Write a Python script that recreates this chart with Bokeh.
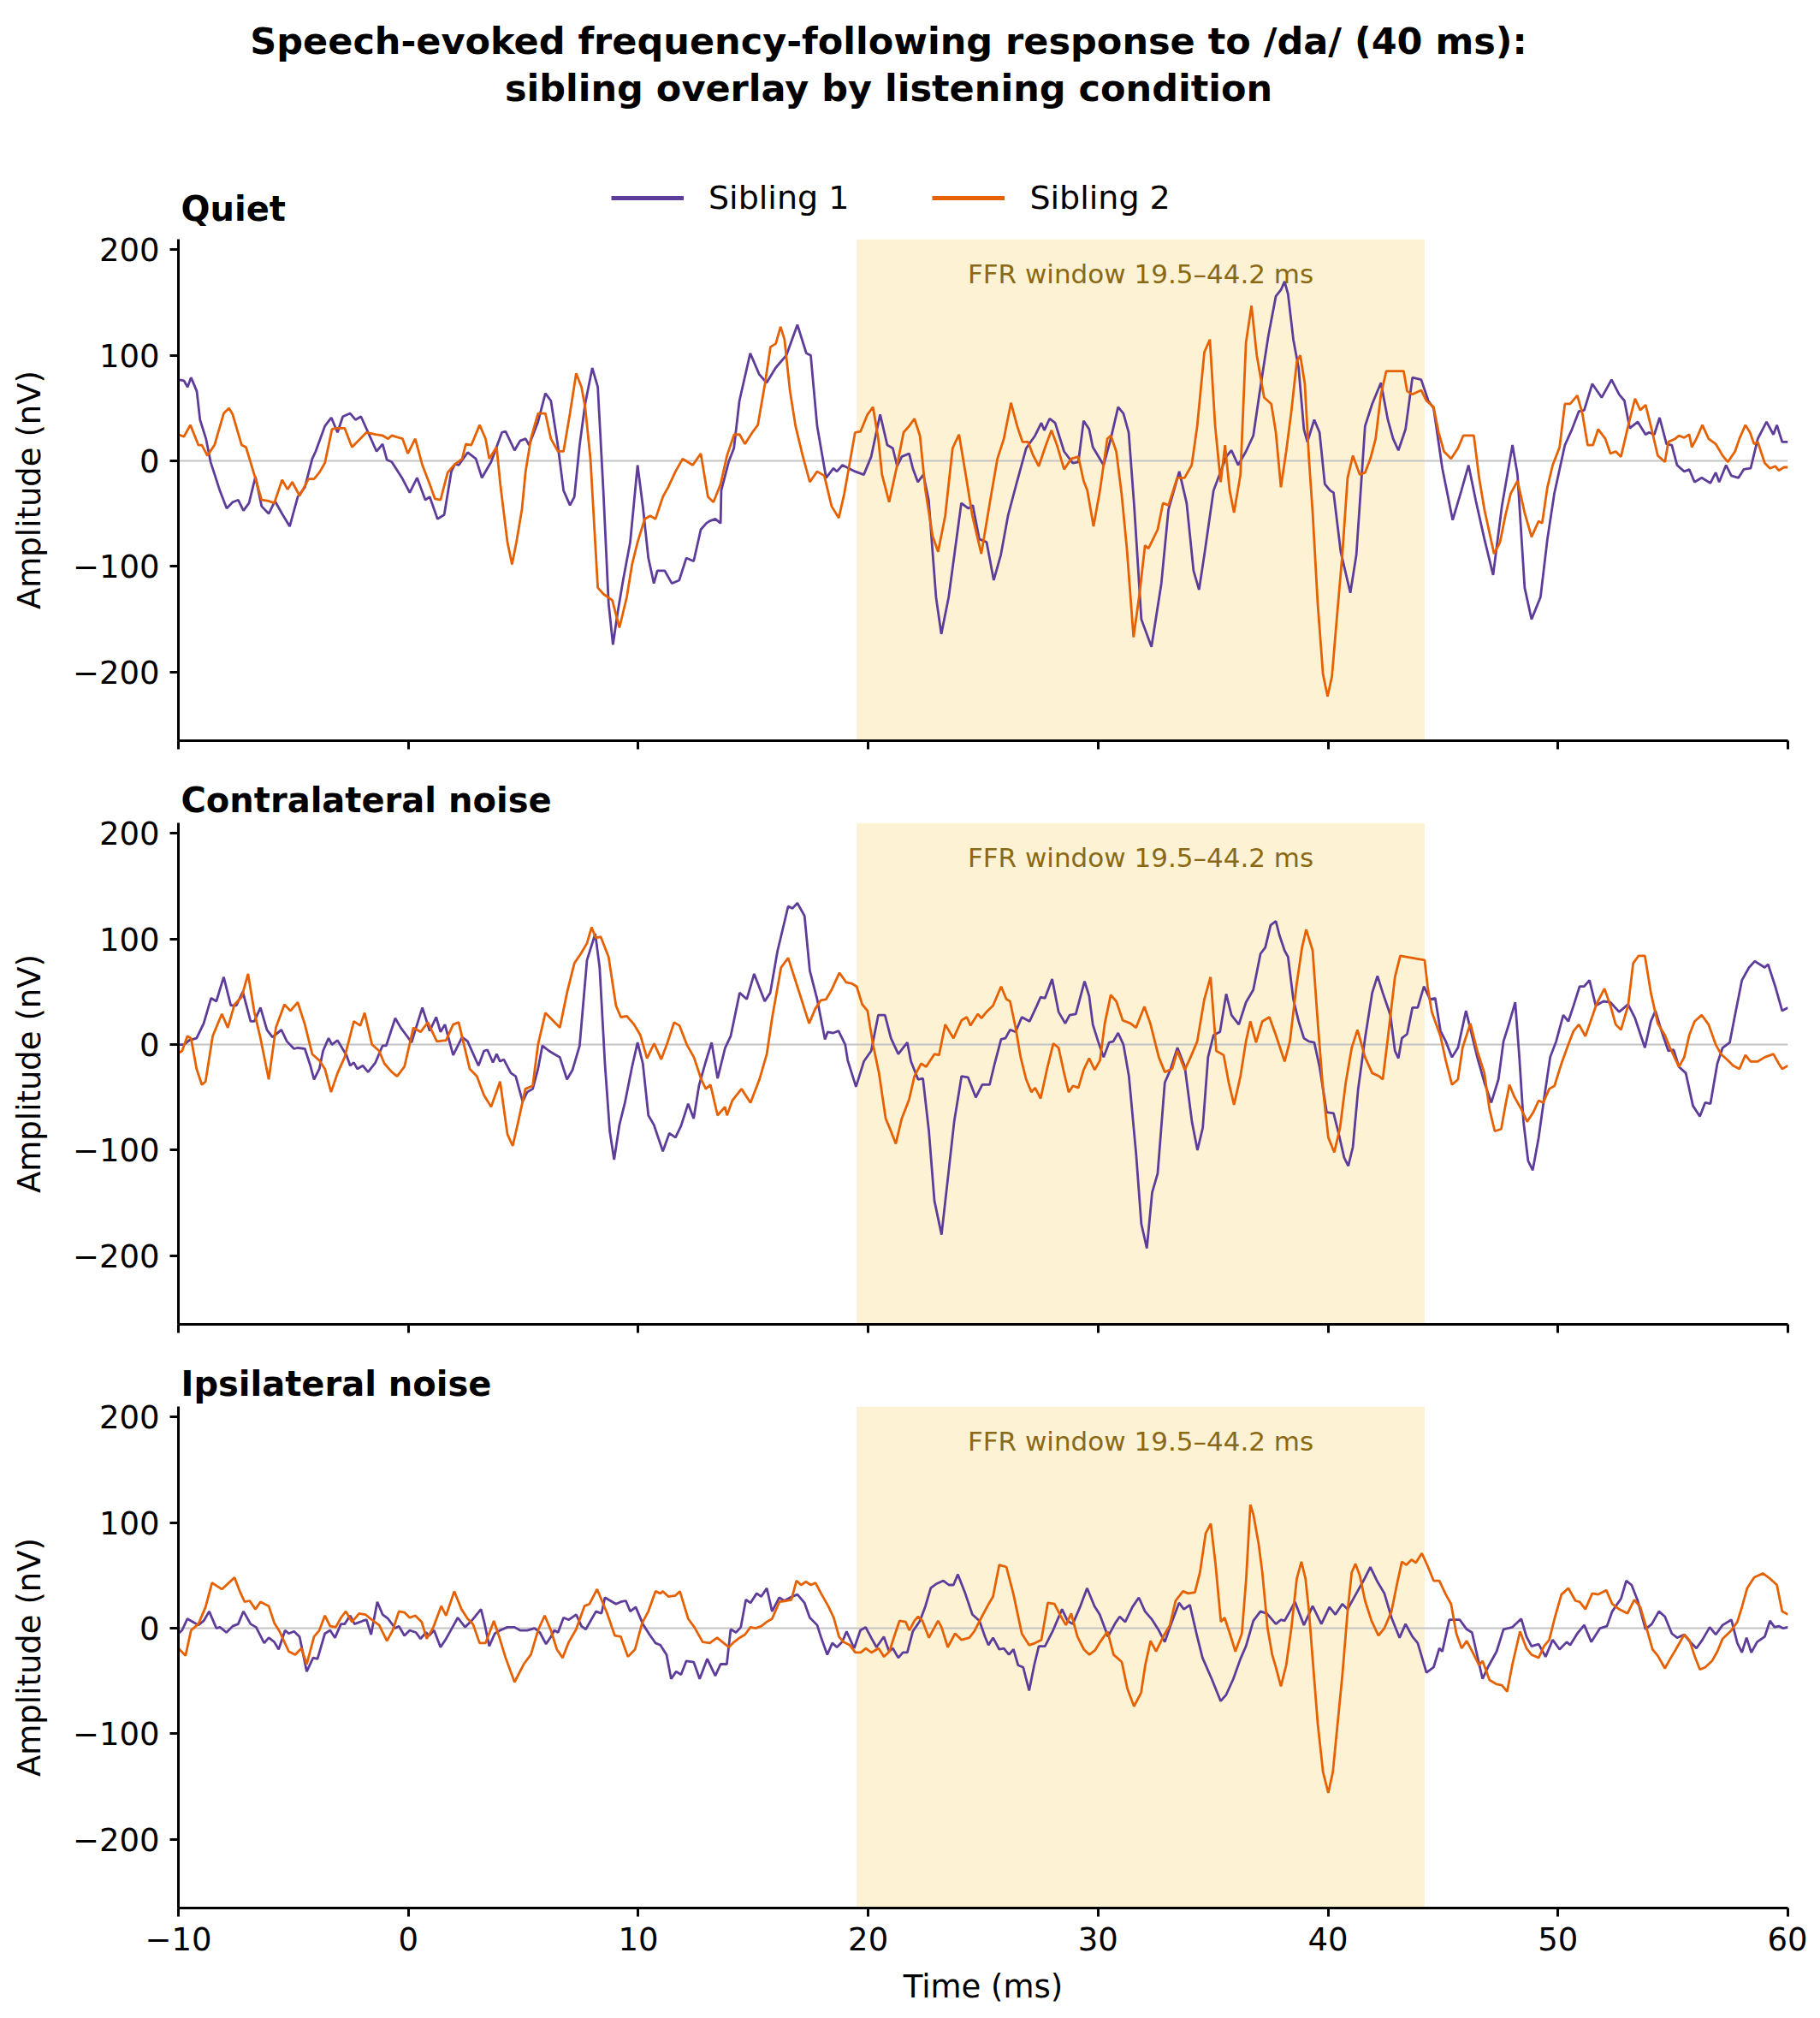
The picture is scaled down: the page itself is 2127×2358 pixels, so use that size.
from bokeh.plotting import figure
from bokeh.layouts import column
from bokeh.models import (Range1d, FixedTicker, BoxAnnotation, Span, Label,
                          Legend, LegendItem, Title)
from bokeh.embed import file_html
from bokeh.resources import INLINE

SIB1_COLOR = "#5e3c99"
SIB2_COLOR = "#e66101"
FONT = "DejaVu Sans"

suptitle = ["Speech-evoked frequency-following response to /da/ (40 ms):",
            "sibling overlay by listening condition"]
conditions = ["Quiet", "Contralateral noise", "Ipsilateral noise"]
series_names = ["Sibling 1", "Sibling 2"]
ffr_window = (19.5, 44.2)
x_ticks = [-10, 0, 10, 20, 30, 40, 50, 60]
y_ticks = [-200, -100, 0, 100, 200]

# (time ms, amplitude nV)
quiet_sib1 = [
    (-10, 77), (-9.76, 76), (-9.6, 70), (-9.45, 79), (-9.2, 66), (-9.06, 39), (-8.8, 21), (-8.6, -1),
    (-8.2, -28), (-8.04, -37), (-7.9, -45), (-7.64, -39), (-7.4, -37), (-7.17, -47), (-6.93, -40),
    (-6.65, -15), (-6.38, -43), (-6.07, -50), (-5.8, -38), (-5.52, -49), (-5.16, -62), (-4.81, -34),
    (-4.5, -25), (-4.18, 2), (-4.03, 9), (-3.63, 33), (-3.35, 41), (-3.08, 27), (-2.85, 42), (-2.53, 45),
    (-2.3, 39), (-2.06, 42), (-1.75, 27), (-1.38, 9), (-1.12, 16), (-0.93, 1), (-0.72, -1), (-0.25, -17),
    (0.06, -30), (0.38, -16), (0.74, -37), (0.93, -34), (1.27, -55), (1.56, -51), (1.87, -10), (2.03, -3),
    (2.19, -4), (2.58, 8), (2.94, 2), (3.2, -16), (3.6, -1), (4.07, 27), (4.23, 28), (4.62, 10), (4.86, 19),
    (5.1, 21), (5.25, 15), (5.64, 37), (5.96, 64), (6.2, 57), (6.5, 15), (6.75, -28), (7.03, -42),
    (7.22, -34), (7.45, 15), (7.69, 54), (8.0, 88), (8.24, 70), (8.48, -28), (8.71, -135), (8.9, -174),
    (9.1, -144), (9.34, -113), (9.65, -77), (9.97, -4), (10.2, -43), (10.44, -92), (10.68, -116),
    (10.83, -104), (11.15, -104), (11.46, -116), (11.78, -113), (12.09, -92), (12.41, -95), (12.72, -65),
    (12.96, -59), (13.1, -57), (13.35, -55), (13.58, -59), (13.61, -28), (13.93, -1), (14.16, 12),
    (14.4, 57), (14.87, 102), (15.26, 82), (15.58, 74), (15.97, 88), (16.44, 100), (16.92, 129),
    (17.31, 102), (17.5, 100), (17.78, 33), (18.17, -16), (18.49, -7), (18.64, -10), (18.88, -4),
    (19.43, -10), (19.81, -13), (20.13, 4), (20.52, 44), (20.83, 15), (21.07, 12), (21.26, -5), (21.46, 4),
    (21.78, 7), (21.94, -7), (22.16, -20), (22.4, -13), (22.63, -37), (22.95, -129), (23.18, -164),
    (23.5, -129), (24.05, -40), (24.36, -45), (24.55, -42), (24.83, -74), (25.15, -77), (25.46, -113),
    (25.77, -89), (26.08, -52), (26.48, -19), (26.87, 12), (27.26, 24), (27.53, 36), (27.66, 29),
    (27.89, 40), (28.13, 36), (28.52, 9), (28.9, -2), (29.14, -1), (29.37, 38), (29.61, 30), (29.77, 13),
    (30.24, -4), (30.55, 21), (30.87, 51), (31.1, 45), (31.33, 27), (31.57, -43), (31.88, -150),
    (32.32, -176), (32.75, -116), (33.06, -46), (33.53, -10), (33.85, -40), (34.15, -104), (34.39, -122),
    (34.62, -89), (35.02, -28), (35.33, -10), (35.57, 4), (35.8, 10), (36.09, -4), (36.43, 9), (36.75, 24),
    (37.06, 70), (37.4, 118), (37.73, 156), (37.95, 162), (38.11, 170), (38.26, 158), (38.49, 115),
    (38.72, 88), (38.95, 30), (39.1, 18), (39.4, 39), (39.63, 27), (39.86, -22), (40.09, -28), (40.24, -30),
    (40.55, -86), (40.97, -125), (41.23, -89), (41.61, 33), (41.92, 54), (42.3, 74), (42.6, 39), (42.83, 21),
    (43.06, 10), (43.37, 30), (43.67, 79), (44.05, 77), (44.36, 57), (44.59, 50), (44.97, -7), (45.42, -56),
    (45.8, -28), (46.11, -4), (46.42, -37), (46.8, -74), (47.18, -108), (47.56, -43), (48.02, 15),
    (48.24, -13), (48.55, -120), (48.85, -150), (49.24, -129), (49.54, -74), (49.84, -31), (50.3, 15),
    (50.61, 30), (50.91, 47), (51.14, 48), (51.49, 73), (51.9, 60), (52.33, 77), (52.66, 63), (52.89, 57),
    (53.12, 31), (53.47, 37), (53.81, 25), (53.96, 27), (54.19, 25), (54.42, 41), (54.72, 16), (54.95, 15),
    (55.18, -4), (55.49, -10), (55.71, -8), (55.94, -20), (56.25, -16), (56.63, -21), (56.86, -11),
    (57.01, -20), (57.31, -4), (57.54, -14), (57.85, -16), (58.08, -8), (58.38, -7), (58.69, 21),
    (59.07, 37), (59.37, 25), (59.52, 34), (59.75, 18), (60.0, 18),
]
quiet_sib2 = [
    (-10, 25), (-9.76, 23), (-9.48, 34), (-9.13, 15), (-8.98, 15), (-8.74, 5), (-8.43, 15), (-8.03, 45),
    (-7.8, 50), (-7.64, 44), (-7.25, 15), (-7.06, 13), (-6.7, -13), (-6.38, -37), (-6.07, -38), (-5.83, -40),
    (-5.49, -18), (-5.25, -27), (-5.05, -20), (-4.73, -33), (-4.34, -17), (-4.1, -17), (-3.87, -11),
    (-3.63, -2), (-3.32, 30), (-3.16, 31), (-2.77, 31), (-2.45, 13), (-1.82, 27), (-1.43, 25), (-1.12, 24),
    (-0.88, 21), (-0.72, 24), (-0.25, 21), (-0.02, 7), (0.3, 21), (0.61, -4), (0.93, -22), (1.16, -36),
    (1.4, -37), (1.71, -11), (2.03, -3), (2.34, 2), (2.5, 16), (2.74, 15), (3.1, 34), (3.36, 21), (3.52, 2),
    (3.84, 13), (4.0, -22), (4.31, -77), (4.51, -98), (4.7, -77), (4.94, -46), (5.1, -10), (5.33, 21),
    (5.64, 45), (5.96, 45), (6.2, 21), (6.51, 9), (6.75, 9), (7.03, 45), (7.3, 83), (7.53, 70), (7.69, 51),
    (7.92, 2), (8.24, -120), (8.48, -126), (8.87, -132), (9.18, -158), (9.5, -129), (9.73, -98),
    (9.97, -77), (10.28, -55), (10.52, -52), (10.75, -55), (11.07, -34), (11.3, -25), (11.62, -10),
    (11.93, 2), (12.37, -4), (12.72, 7), (13.03, -34), (13.27, -39), (13.58, -22), (13.86, 5), (14.17, 25),
    (14.41, 25), (14.64, 16), (14.96, 27), (15.2, 34), (15.51, 73), (15.75, 108), (15.98, 111), (16.19, 127),
    (16.36, 115), (16.6, 66), (16.84, 33), (17.15, 5), (17.46, -20), (17.78, -10), (18.09, -14),
    (18.41, -43), (18.72, -54), (18.96, -31), (19.43, 27), (19.67, 28), (19.97, 44), (20.21, 51),
    (20.44, 21), (20.6, -13), (20.91, -39), (21.23, -7), (21.54, 27), (21.78, 33), (22.01, 40), (22.25, 24),
    (22.49, -28), (22.8, -71), (23.04, -86), (23.35, -52), (23.67, 12), (23.95, 25), (24.22, -10),
    (24.53, -52), (24.92, -88), (25.31, -37), (25.62, 2), (25.9, 21), (26.21, 55), (26.48, 33), (26.71, 18),
    (26.95, 18), (27.18, 5), (27.42, -5), (27.73, 15), (27.97, 29), (28.21, 15), (28.52, -8), (28.83, 2),
    (29.14, 4), (29.37, -19), (29.53, -28), (29.8, -62), (30.08, -28), (30.4, 21), (30.55, 24), (30.79, 9),
    (31.02, -31), (31.25, -83), (31.54, -167), (31.8, -126), (32.04, -80), (32.19, -83), (32.59, -65),
    (32.82, -40), (33.06, -42), (33.44, -16), (33.76, -16), (34.07, -4), (34.31, 33), (34.62, 103),
    (34.86, 115), (35.09, 33), (35.33, -20), (35.52, 15), (35.72, -28), (35.91, -49), (36.19, -13),
    (36.43, 112), (36.67, 147), (36.9, 100), (37.22, 60), (37.53, 54), (37.73, 27), (37.95, -25),
    (38.18, 9), (38.41, 48), (38.64, 94), (38.79, 100), (38.99, 73), (39.17, 2), (39.33, -49),
    (39.55, -135), (39.78, -202), (39.98, -223), (40.17, -204), (40.39, -147), (40.62, -89), (40.85, -16),
    (41.08, 5), (41.23, -4), (41.38, -13), (41.61, -11), (41.84, 2), (42.07, 21), (42.3, 63), (42.53, 85),
    (42.91, 85), (43.29, 85), (43.44, 66), (43.67, 63), (44.05, 67), (44.28, 57), (44.59, 51), (44.81, 27),
    (45.04, 9), (45.35, 2), (45.65, 12), (45.88, 24), (46.11, 24), (46.34, 24), (46.57, -16), (46.8, -46),
    (47.02, -68), (47.22, -88), (47.48, -77), (47.71, -52), (47.94, -31), (48.24, -19), (48.55, -49),
    (48.85, -72), (49.16, -57), (49.31, -59), (49.54, -25), (49.77, -4), (50.07, 13), (50.3, 54),
    (50.53, 54), (50.84, 62), (51.06, 45), (51.29, 15), (51.52, 15), (51.75, 30), (52.06, 21), (52.28, 7),
    (52.51, 9), (52.74, 4), (53.05, 33), (53.35, 59), (53.58, 48), (53.81, 53), (54.04, 33), (54.34, 5),
    (54.65, -1), (54.8, 18), (55.1, 21), (55.26, 24), (55.49, 22), (55.71, 25), (55.82, 13), (56.02, 21),
    (56.28, 34), (56.55, 21), (56.86, 16), (57.16, 5), (57.39, -1), (57.7, 9), (57.89, 21), (58.15, 34),
    (58.35, 27), (58.53, 16), (58.69, 18), (58.99, -2), (59.22, -7), (59.45, -5), (59.6, -9), (59.83, -6),
    (60.0, -6),
]
contra_sib1 = [
    (-10, 0), (-9.76, 0), (-9.53, 4), (-9.21, 6), (-8.9, 20), (-8.58, 44), (-8.35, 41), (-8.03, 64),
    (-7.72, 37), (-7.48, 37), (-7.2, 50), (-6.86, 22), (-6.7, 22), (-6.43, 35), (-6.15, 14), (-5.91, 7),
    (-5.52, 14), (-5.28, 3), (-4.97, -4), (-4.81, -3), (-4.5, -4), (-4.26, -20), (-4.1, -33), (-3.87, -23),
    (-3.71, -6), (-3.47, 6), (-3.32, 0), (-3.08, 4), (-2.69, -10), (-2.53, -20), (-2.37, -17), (-2.22, -23),
    (-1.98, -20), (-1.75, -26), (-1.43, -17), (-1.12, -1), (-0.96, -1), (-0.57, 25), (-0.33, 16),
    (-0.09, 9), (0.14, 2), (0.38, 19), (0.61, 35), (0.93, 13), (1.21, 26), (1.4, 12), (1.59, 19),
    (1.95, -10), (2.34, 7), (2.58, 3), (3.05, -20), (3.29, -6), (3.44, -5), (3.68, -17), (3.84, -9),
    (3.99, -16), (4.15, -14), (4.46, -27), (4.67, -30), (4.97, -54), (5.17, -45), (5.41, -42), (5.64, -23),
    (5.83, -1), (6.12, -6), (6.35, -9), (6.59, -12), (6.9, -33), (7.14, -24), (7.45, -1), (7.77, 80),
    (8.13, 105), (8.32, 73), (8.55, -18), (8.76, -82), (8.95, -109), (9.18, -76), (9.42, -55), (9.73, -21),
    (9.97, 2), (10.2, -18), (10.44, -67), (10.68, -76), (11.07, -101), (11.35, -84), (11.62, -88),
    (11.86, -77), (12.17, -56), (12.41, -70), (12.64, -39), (12.91, -18), (13.19, 2), (13.45, -32),
    (13.78, -3), (14.02, 8), (14.41, 49), (14.72, 43), (15.04, 67), (15.5, 41), (15.74, 49), (16.05, 88),
    (16.52, 131), (16.71, 129), (16.92, 134), (17.23, 122), (17.46, 70), (17.78, 43), (18.12, 5),
    (18.24, 12), (18.48, 11), (18.71, 13), (19.0, 0), (19.11, -15), (19.47, -40), (19.81, -16), (20.13, -6),
    (20.44, 28), (20.73, 28), (20.99, 6), (21.31, -9), (21.7, 2), (21.86, -16), (22.17, -33), (22.38, -32),
    (22.64, -82), (22.88, -148), (23.19, -180), (23.51, -118), (23.74, -73), (24.06, -30), (24.34, -31),
    (24.68, -50), (24.96, -38), (25.28, -38), (25.5, -18), (25.78, 5), (25.97, 6), (26.17, 14), (26.41, 12),
    (26.68, 26), (27.02, 22), (27.34, 37), (27.5, 45), (27.69, 44), (28.0, 62), (28.28, 31), (28.57, 20),
    (28.76, 28), (29.03, 29), (29.41, 60), (29.61, 46), (29.77, 19), (30.0, 3), (30.24, -12), (30.48, 2),
    (30.66, 3), (30.87, 11), (31.1, 0), (31.34, -30), (31.65, -103), (31.88, -170), (32.12, -193),
    (32.35, -140), (32.59, -122), (32.9, -36), (33.14, -24), (33.45, -3), (33.77, -21), (34.08, -73),
    (34.32, -100), (34.55, -79), (34.78, -12), (35.02, 9), (35.3, 12), (35.57, 48), (35.8, 28), (36.12, 19),
    (36.43, 40), (36.75, 52), (37.06, 86), (37.27, 92), (37.5, 113), (37.73, 117), (37.88, 104),
    (38.11, 89), (38.26, 83), (38.49, 43), (38.72, 22), (38.95, 6), (39.17, 3), (39.4, 2), (39.63, -21),
    (39.94, -64), (40.24, -65), (40.47, -85), (40.7, -107), (40.88, -115), (41.08, -97), (41.31, -42),
    (41.61, 6), (41.92, 49), (42.15, 65), (42.38, 49), (42.71, 28), (42.91, -6), (43.06, -13), (43.21, 6),
    (43.44, 10), (43.67, 35), (43.9, 35), (44.17, 55), (44.43, 43), (44.66, 44), (44.89, 13), (45.12, 3),
    (45.39, -12), (45.65, -3), (46.0, 32), (46.19, 15), (46.49, -12), (46.8, -36), (47.1, -55),
    (47.41, -33), (47.63, 3), (47.86, 19), (48.14, 40), (48.32, -12), (48.5, -73), (48.7, -110),
    (48.9, -119), (49.16, -88), (49.39, -52), (49.66, -12), (49.92, 3), (50.23, 28), (50.45, 22),
    (50.68, 37), (50.94, 55), (51.14, 55), (51.37, 61), (51.64, 37), (51.98, 41), (52.28, 40), (52.66, 31),
    (53.05, 38), (53.35, 25), (53.78, -3), (54.04, 22), (54.24, 32), (54.5, 13), (54.8, -6), (55.03, -5),
    (55.26, -21), (55.56, -27), (55.87, -58), (56.17, -68), (56.4, -55), (56.63, -56), (56.93, -18),
    (57.16, -3), (57.47, 2), (57.7, 28), (58.0, 61), (58.31, 73), (58.56, 79), (58.99, 73), (59.14, 76),
    (59.45, 55), (59.75, 32), (60.0, 35),
]
contra_sib2 = [
    (-10, -8), (-9.84, -6), (-9.61, 8), (-9.45, 6), (-9.21, -23), (-8.98, -38), (-8.82, -35), (-8.51, 8),
    (-8.11, 29), (-7.85, 16), (-7.56, 38), (-7.25, 45), (-6.97, 67), (-6.7, 31), (-6.43, 6), (-6.07, -33),
    (-5.76, 16), (-5.39, 38), (-5.13, 32), (-4.81, 40), (-4.5, 19), (-4.18, -9), (-3.87, -15), (-3.63, -23),
    (-3.36, -45), (-3.08, -27), (-2.77, -12), (-2.37, 22), (-2.09, 18), (-1.9, 30), (-1.58, 0), (-1.27, -6),
    (-1.04, -18), (-0.72, -26), (-0.49, -30), (-0.17, -21), (0.22, 16), (0.53, 12), (0.85, 21), (1.24, 3),
    (1.64, 4), (1.95, 19), (2.19, 21), (2.34, 7), (2.67, -23), (2.98, -30), (3.29, -48), (3.6, -59),
    (3.99, -35), (4.31, -85), (4.54, -96), (4.78, -73), (5.09, -42), (5.41, -39), (5.64, 0), (5.96, 30),
    (6.28, 23), (6.59, 16), (6.9, 49), (7.22, 77), (7.5, 86), (7.77, 96), (7.97, 111), (8.16, 101),
    (8.37, 102), (8.71, 83), (9.03, 37), (9.24, 26), (9.5, 27), (9.82, 19), (10.09, 9), (10.38, -13),
    (10.69, 1), (11.0, -14), (11.24, 0), (11.56, 21), (11.79, 18), (12.11, 0), (12.42, -12), (12.74, -33),
    (12.94, -42), (13.14, -38), (13.45, -67), (13.77, -59), (13.86, -67), (14.09, -53), (14.49, -42),
    (14.88, -55), (15.27, -33), (15.59, -9), (15.82, 25), (16.21, 73), (16.52, 82), (16.92, 55),
    (17.43, 20), (17.7, 34), (17.94, 42), (18.17, 43), (18.41, 52), (18.75, 68), (19.04, 59), (19.27, 58),
    (19.5, 55), (19.74, 38), (19.97, 32), (20.21, 0), (20.47, -27), (20.76, -70), (20.99, -82),
    (21.2, -94), (21.46, -70), (21.78, -52), (22.01, -30), (22.3, -18), (22.52, -21), (22.88, -9),
    (23.08, -10), (23.35, 19), (23.71, 6), (24.06, 23), (24.29, 26), (24.45, 18), (24.77, 29), (24.92, 25),
    (25.15, 31), (25.43, 37), (25.78, 55), (26.01, 43), (26.17, 41), (26.41, 16), (26.63, -12),
    (26.87, -33), (27.1, -45), (27.26, -41), (27.5, -51), (27.78, -23), (28.05, 1), (28.28, -3),
    (28.52, -27), (28.72, -45), (28.91, -39), (29.14, -41), (29.37, -24), (29.61, -13), (29.85, -24),
    (30.08, -15), (30.29, 20), (30.55, 47), (30.79, 41), (31.07, 23), (31.41, 20), (31.65, 16), (32.01, 36),
    (32.27, 20), (32.64, -12), (32.9, -26), (33.22, -23), (33.45, -6), (33.77, -24), (34.0, -13),
    (34.31, 3), (34.62, 43), (34.89, 64), (35.14, -6), (35.46, -10), (35.68, -36), (35.91, -57),
    (36.19, -30), (36.43, 3), (36.62, 22), (36.87, 2), (37.14, 22), (37.45, 26), (37.73, 9), (38.11, -16),
    (38.34, 3), (38.64, 58), (38.87, 92), (39.05, 109), (39.33, 89), (39.56, 19), (39.78, -42),
    (40.01, -88), (40.27, -102), (40.52, -79), (40.77, -36), (41.03, -3), (41.28, 14), (41.61, -12),
    (41.92, -27), (42.22, -30), (42.38, -33), (42.6, 6), (42.91, 64), (43.14, 84), (44.2, 80), (44.33, 55),
    (44.51, 31), (44.89, 8), (45.12, -15), (45.39, -38), (45.65, -33), (45.85, -3), (46.19, 20),
    (46.49, -6), (46.8, -27), (47.02, -61), (47.25, -82), (47.53, -80), (47.71, -58), (47.89, -38),
    (48.09, -49), (48.4, -61), (48.66, -73), (48.93, -64), (49.16, -53), (49.36, -55), (49.62, -42),
    (49.85, -39), (50.15, -18), (50.45, 0), (50.68, 13), (50.91, 19), (51.19, 8), (51.37, 19), (51.67, 38),
    (52.02, 53), (52.28, 37), (52.51, 19), (52.74, 14), (53.05, 37), (53.27, 77), (53.5, 84), (53.78, 84),
    (54.04, 49), (54.34, 20), (54.65, 9), (54.87, -3), (55.26, -21), (55.49, -12), (55.71, 9), (55.94, 22),
    (56.25, 28), (56.55, 19), (56.86, 0), (57.09, -9), (57.39, -15), (57.62, -20), (57.89, -23),
    (58.15, -10), (58.38, -16), (58.69, -16), (58.99, -12), (59.37, -9), (59.6, -18), (59.75, -23),
    (60.0, -20),
]
ipsi_sib1 = [
    (-10, -5), (-9.84, -2), (-9.61, 9), (-9.37, 6), (-9.13, 3), (-8.9, 7), (-8.66, 16), (-8.35, 0),
    (-8.19, 1), (-7.91, -4), (-7.64, 2), (-7.4, 4), (-7.17, 16), (-6.86, 4), (-6.62, 1), (-6.27, -14),
    (-6.07, -9), (-5.83, -13), (-5.64, -20), (-5.36, -2), (-5.2, -5), (-4.97, -3), (-4.73, -8), (-4.42, -41),
    (-4.14, -28), (-3.95, -29), (-3.63, -5), (-3.4, -2), (-3.19, -9), (-2.93, 4), (-2.77, 4), (-2.53, 12),
    (-2.34, 4), (-1.98, 7), (-1.82, 8), (-1.62, -6), (-1.35, 25), (-1.12, 13), (-0.88, 9), (-0.57, 0),
    (-0.41, 2), (-0.17, -7), (0.06, -2), (0.33, -4), (0.53, -10), (0.77, -4), (0.9, -7), (1.12, -2),
    (1.4, -18), (1.64, -10), (1.87, -1), (2.15, 10), (2.47, 1), (2.79, 8), (3.16, 18), (3.32, 4),
    (3.52, -17), (3.76, -5), (3.99, -2), (4.31, 1), (4.62, 1), (4.86, -2), (5.17, -2), (5.49, 0),
    (5.72, -4), (5.99, -15), (6.2, -8), (6.35, -2), (6.51, -4), (6.75, 10), (6.98, 8), (7.3, 13), (7.53, 2),
    (7.72, -1), (8.16, 16), (8.4, 14), (8.55, 29), (8.79, 26), (9.03, 23), (9.24, 25), (9.46, 26),
    (9.65, 16), (9.89, 20), (10.2, 4), (10.49, -6), (10.75, -14), (10.96, -16), (11.23, -25), (11.43, -48),
    (11.65, -41), (11.86, -44), (12.09, -31), (12.41, -32), (12.67, -48), (13.0, -29), (13.35, -45),
    (13.58, -34), (13.85, -34), (14.02, -1), (14.25, -4), (14.46, 1), (14.68, 27), (14.88, 24), (15.15, 33),
    (15.35, 30), (15.59, 38), (15.82, 16), (16.13, 29), (16.36, 26), (16.6, 29), (16.92, 32), (17.23, 24),
    (17.46, 10), (17.78, 3), (17.94, -8), (18.22, -25), (18.44, -14), (18.64, -18), (18.87, -13),
    (19.06, -3), (19.39, -19), (19.66, -2), (19.89, 1), (20.13, -9), (20.36, -18), (20.68, -8),
    (20.91, -22), (21.07, -19), (21.31, -28), (21.51, -23), (21.7, -23), (21.94, -3), (22.25, 7),
    (22.49, 21), (22.72, 38), (22.96, 42), (23.27, 45), (23.51, 41), (23.71, 41), (23.9, 51), (24.22, 33),
    (24.53, 13), (24.84, 7), (25.08, -8), (25.23, -16), (25.43, -9), (25.7, -20), (25.9, -19), (26.12, -25),
    (26.32, -20), (26.52, -35), (26.74, -37), (27.0, -59), (27.22, -35), (27.42, -17), (27.69, -17),
    (28.04, -2), (28.43, 18), (28.67, 7), (28.9, 4), (29.21, 20), (29.52, 38), (29.84, 21), (30.07, 13),
    (30.43, -8), (30.75, 5), (30.94, 11), (31.18, 6), (31.49, 20), (31.77, 29), (32.04, 16), (32.35, 8),
    (32.64, -2), (32.9, -13), (33.14, 2), (33.52, 24), (33.73, 18), (33.99, 22), (34.31, -8), (34.54, -28),
    (34.94, -48), (35.33, -69), (35.57, -63), (35.88, -48), (36.19, -29), (36.43, -17), (36.75, 7),
    (37.06, 16), (37.34, 14), (37.73, 4), (37.95, 8), (38.11, 7), (38.34, 16), (38.56, 25), (38.95, 3),
    (39.33, 21), (39.71, 4), (40.06, 20), (40.32, 13), (40.62, 23), (40.85, 18), (41.23, 33), (41.54, 45),
    (41.84, 58), (42.15, 44), (42.45, 33), (42.76, 10), (43.11, -9), (43.37, 4), (43.67, -8), (43.9, -14),
    (44.28, -42), (44.59, -37), (44.84, -19), (44.97, -22), (45.27, 8), (45.73, 8), (46.03, -1),
    (46.26, -4), (46.72, -48), (46.95, -37), (47.33, -22), (47.63, -1), (48.02, 1), (48.4, 9), (48.63, -8),
    (48.85, -17), (49.16, -15), (49.46, -27), (49.77, -11), (50.07, -20), (50.38, -13), (50.53, -16),
    (50.84, -5), (51.14, 3), (51.45, -13), (51.83, 0), (52.13, 2), (52.36, 16), (52.74, 28), (52.97, 45),
    (53.2, 41), (53.47, 26), (53.81, -1), (54.08, 4), (54.39, 16), (54.65, 11), (54.95, -5), (55.18, -9),
    (55.49, -6), (55.71, -12), (56.02, -19), (56.28, -11), (56.6, 1), (56.86, -6), (57.16, 3), (57.54, 8),
    (57.8, -14), (58.0, -23), (58.2, -9), (58.41, -23), (58.66, -13), (58.99, -8), (59.22, 7), (59.42, 1),
    (59.6, 2), (59.78, 0), (60.0, 1),
]
ipsi_sib2 = [
    (-10, -19), (-9.69, -26), (-9.45, -2), (-9.13, 4), (-8.82, 20), (-8.54, 43), (-8.11, 37), (-7.56, 48),
    (-7.33, 35), (-7.12, 25), (-6.9, 26), (-6.65, 18), (-6.43, 25), (-6.07, 21), (-5.83, 5), (-5.6, -3),
    (-5.2, -22), (-4.92, -25), (-4.65, -19), (-4.42, -34), (-4.1, -8), (-3.87, -2), (-3.63, 12), (-3.4, 2),
    (-3.16, 1), (-2.93, 10), (-2.72, 16), (-2.45, 6), (-2.14, 14), (-1.87, 13), (-1.59, 8), (-1.27, 3),
    (-0.93, -12), (-0.68, -2), (-0.41, 16), (-0.17, 15), (0.06, 10), (0.3, 12), (0.58, 6), (0.8, -10),
    (1.09, 1), (1.43, 21), (1.64, 12), (2.0, 35), (2.31, 18), (2.58, 9), (2.81, 4), (3.1, -14), (3.36, -14),
    (3.72, 7), (3.95, -8), (4.23, -28), (4.62, -51), (5.02, -34), (5.33, -25), (5.64, -2), (5.93, 12),
    (6.2, -2), (6.46, -20), (6.71, -28), (6.98, -13), (7.3, -1), (7.66, 21), (7.88, 23), (8.21, 37),
    (8.63, 15), (8.98, -7), (9.24, -8), (9.55, -27), (9.86, -20), (10.17, 5), (10.44, 16), (10.75, 35),
    (10.96, 33), (11.07, 35), (11.31, 30), (11.62, 31), (11.81, 35), (12.17, 9), (12.44, 1), (12.8, -13),
    (13.11, -14), (13.43, -9), (13.66, -13), (13.94, -18), (14.17, -13), (14.41, -9), (14.64, -6),
    (14.88, 1), (15.12, 0), (15.35, 2), (15.59, 6), (15.82, 9), (16.14, 25), (16.45, 26), (16.66, 27),
    (16.88, 45), (17.08, 41), (17.29, 44), (17.51, 41), (17.71, 43), (17.95, 33), (18.26, 21), (18.5, 10),
    (18.73, -8), (18.92, -13), (19.2, -16), (19.44, -23), (19.68, -23), (19.9, -19), (20.14, -23),
    (20.45, -19), (20.69, -27), (20.92, -22), (21.16, -6), (21.36, 7), (21.63, 6), (21.79, -2), (22.01, 7),
    (22.17, 11), (22.36, 7), (22.64, -9), (23.04, 7), (23.19, 1), (23.46, -18), (23.78, -5), (24.06, -11),
    (24.4, -9), (24.61, -3), (24.92, 10), (25.24, 23), (25.43, 30), (25.7, 60), (26.01, 58), (26.32, 32),
    (26.68, -5), (27.0, -16), (27.26, -14), (27.53, -11), (27.81, 24), (28.1, 23), (28.36, 12), (28.6, 3),
    (28.83, 14), (29.1, -8), (29.38, -20), (29.62, -25), (29.86, -21), (30.09, -13), (30.41, -3),
    (30.67, -25), (31.03, -32), (31.27, -57), (31.56, -74), (31.87, -61), (32.05, -35), (32.28, -12),
    (32.52, -22), (32.83, -8), (33.12, 3), (33.37, 26), (33.69, 35), (33.92, 33), (34.21, 34), (34.43, 53),
    (34.68, 90), (34.9, 99), (35.1, 62), (35.34, 6), (35.5, 10), (35.73, -5), (35.97, -22), (36.25, -5),
    (36.44, 47), (36.62, 117), (36.75, 108), (36.98, 80), (37.14, 53), (37.37, 0), (37.57, -25),
    (37.73, -37), (37.95, -55), (38.18, -35), (38.41, 1), (38.64, 47), (38.84, 63), (39.02, 47), (39.17, 16),
    (39.33, -29), (39.55, -90), (39.78, -136), (40.01, -156), (40.21, -136), (40.39, -96), (40.62, -45),
    (40.85, 16), (41.03, 53), (41.19, 61), (41.38, 50), (41.61, 26), (41.89, 7), (42.19, -7), (42.45, 0),
    (42.76, 16), (42.99, 41), (43.21, 63), (43.41, 60), (43.63, 65), (43.82, 62), (44.08, 71), (44.33, 59),
    (44.59, 45), (44.84, 45), (45.12, 32), (45.35, 23), (45.58, -5), (45.81, -19), (46.03, -12),
    (46.34, -25), (46.57, -35), (46.72, -31), (47.02, -49), (47.33, -53), (47.56, -54), (47.79, -60),
    (48.02, -34), (48.35, -3), (48.63, -19), (48.85, -25), (49.16, -28), (49.39, -17), (49.62, -11),
    (49.85, 9), (50.15, 32), (50.45, 38), (50.76, 26), (50.94, 25), (51.19, 18), (51.49, 33), (51.75, 32),
    (52.1, 36), (52.36, 23), (52.66, 18), (53.02, 14), (53.32, 27), (53.58, 20), (53.88, -2), (54.11, -20),
    (54.34, -26), (54.65, -38), (54.88, -29), (55.1, -21), (55.49, -6), (55.71, -11), (55.94, -26),
    (56.17, -39), (56.4, -37), (56.7, -31), (56.93, -22), (57.16, -10), (57.54, -2), (57.8, 6), (58.0, 20),
    (58.23, 38), (58.53, 48), (58.91, 52), (59.22, 47), (59.52, 41), (59.75, 16), (60.0, 13),
]

traces = [(quiet_sib1, quiet_sib2), (contra_sib1, contra_sib2), (ipsi_sib1, ipsi_sib2)]

FRAME_W = 1881
FRAME_H = 586
LEFT = 208
RIGHT = 23
HEAD_H = 267


def minus(v):
    return str(v).replace("-", "\u2212")


def split(pairs):
    t, v = zip(*pairs)
    return list(t), list(v)


# header: suptitle, legend and the first panel's title
# (the column aligns its frame with the panels' frames)
head = figure(frame_width=FRAME_W, frame_height=HEAD_H, x_range=Range1d(0, FRAME_W),
              y_range=Range1d(0, HEAD_H), x_axis_type=None, y_axis_type=None,
              output_backend="svg", toolbar_location=None,
              min_border_left=LEFT, min_border_right=RIGHT,
              min_border_top=0, min_border_bottom=0)
head.outline_line_color = None
head.xgrid.visible = False
head.ygrid.visible = False
for i, line in enumerate(suptitle):
    head.add_layout(Label(x=830, y=220 - 55 * i, text=line, text_font=FONT,
                          text_font_size="43px", text_font_style="bold",
                          text_align="center", text_baseline="middle", text_color="black"))
head.add_layout(Label(x=3, y=24, text=conditions[0], text_font=FONT,
                      text_font_size="40px", text_font_style="bold",
                      text_align="left", text_baseline="middle", text_color="black"))

# legend handles: hidden copies of the first panel's traces with thicker lines
handles = []
for (t, v), color in zip([split(quiet_sib1), split(quiet_sib2)], [SIB1_COLOR, SIB2_COLOR]):
    r = head.line(t, v, line_color=color, line_width=5)
    r.visible = False
    handles.append(r)
legend = Legend(items=[LegendItem(label=series_names[0], renderers=[handles[0]]),
                       LegendItem(label=series_names[1], renderers=[handles[1]])],
                orientation="horizontal", location=(506, 14),
                label_text_font=FONT, label_text_font_size="38px",
                label_text_color="black",
                glyph_width=85, glyph_height=40, label_height=40,
                label_standoff=29, spacing=97,
                padding=0, margin=0, border_line_color=None,
                background_fill_alpha=0)
head.add_layout(legend)


def make_panel(name, sib1, sib2, top, bottom, last=False):
    p = figure(frame_width=FRAME_W, frame_height=FRAME_H,
               x_range=Range1d(-10, 60), y_range=Range1d(-265, 210),
               output_backend="svg", toolbar_location=None,
               min_border_left=LEFT, min_border_right=RIGHT,
               min_border_top=top, min_border_bottom=bottom)
    p.xgrid.visible = False
    p.ygrid.visible = False
    p.outline_line_color = None

    for ax in (p.xaxis[0], p.yaxis[0]):
        ax.axis_line_width = 3
        ax.major_tick_line_width = 3
        ax.major_tick_in = 0
        ax.major_tick_out = 10
        ax.minor_tick_line_color = None
        ax.major_label_text_font = FONT
        ax.major_label_text_font_size = "37px"
        ax.major_label_text_color = "black"
        ax.major_label_standoff = 12
        ax.axis_label_text_font = FONT
        ax.axis_label_text_font_size = "37px"
        ax.axis_label_text_font_style = "normal"
        ax.axis_label_text_color = "black"

    p.xaxis.ticker = FixedTicker(ticks=x_ticks)
    p.yaxis.ticker = FixedTicker(ticks=y_ticks)
    p.yaxis.major_label_overrides = {t: minus(t) for t in y_ticks}
    p.yaxis.axis_label = "Amplitude (nV)"
    p.yaxis.axis_label_standoff = 26
    if last:
        p.xaxis.major_label_overrides = {t: minus(t) for t in x_ticks}
        p.xaxis.axis_label = "Time (ms)"
        p.xaxis.axis_label_standoff = 18
    else:
        p.xaxis.major_label_overrides = {t: "" for t in x_ticks}
        p.xaxis.major_label_standoff = 0

    if name is not None:
        p.add_layout(Title(text=name, align="left", text_font=FONT, text_font_size="40px",
                           text_font_style="bold", text_color="black", standoff=8,
                           offset=3), "above")

    # FFR window shading and zero line
    p.add_layout(BoxAnnotation(left=ffr_window[0], right=ffr_window[1],
                               fill_color="#fdf2d4", fill_alpha=1.0,
                               line_color=None, level="underlay"))
    p.add_layout(Span(location=0, dimension="width", line_color="#c4c4c4",
                      line_width=2, level="underlay"))
    p.add_layout(Label(x=sum(ffr_window) / 2, y=177,
                       text="FFR window %.1f\u2013%.1f ms" % ffr_window,
                       text_align="center", text_baseline="middle",
                       text_font=FONT, text_font_size="31px", text_color="#8b6914"))

    t1, v1 = split(sib1)
    t2, v2 = split(sib2)
    p.line(t1, v1, line_color=SIB1_COLOR, line_width=2.8)
    p.line(t2, v2, line_color=SIB2_COLOR, line_width=2.8)
    return p


panels = [head]
borders = [(12, 40), (52, 40), (51, 10)]
for i, (name, (s1, s2)) in enumerate(zip(conditions, traces)):
    top, bottom = borders[i]
    panels.append(make_panel(None if i == 0 else name, s1, s2, top, bottom, last=(i == 2)))

layout = column(*panels, spacing=0)
open("out.html", "w").write(file_html(layout, INLINE))
